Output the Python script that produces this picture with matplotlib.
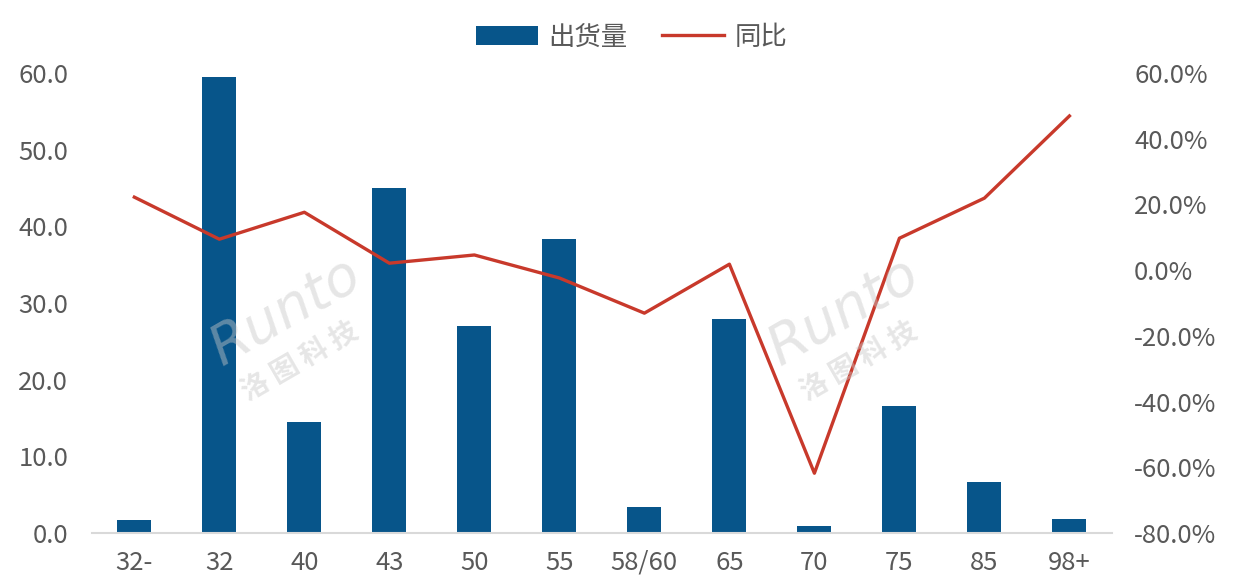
import matplotlib
matplotlib.use("Agg")
import matplotlib.pyplot as plt
from matplotlib.ticker import FuncFormatter

plt.rcParams['font.family'] = ['Noto Sans CJK SC', 'DejaVu Sans']

categories = ['32-', '32', '40', '43', '50', '55', '58/60', '65', '70', '75', '85', '98+']
shipments = [1.7, 59.5, 14.5, 45.0, 27.0, 38.3, 3.4, 27.9, 0.9, 16.6, 6.6, 1.8]
yoy = [22.2, 9.4, 17.6, 2.1, 4.6, -2.4, -13.1, 1.8, -61.8, 9.7, 21.9, 46.9]

bar_color = '#07558A'
line_color = '#C8392B'
text_color = '#595959'

fig = plt.figure(figsize=(12.41, 5.88), dpi=100)
ax = fig.add_axes([0.074, 0.0935, 0.822, 0.7825])
x = list(range(len(categories)))
ax.bar(x, shipments, width=0.4, color=bar_color, zorder=2, label='出货量')
ax.set_xlim(-0.5, len(categories) - 0.5)
ax.set_ylim(0, 60)
ax.set_yticks([0, 10, 20, 30, 40, 50, 60])
ax.yaxis.set_major_formatter(FuncFormatter(lambda v, p: f'{v:.1f}'))
ax.set_xticks(x)
ax.set_xticklabels(categories)
for s in ['top', 'right', 'left']:
    ax.spines[s].set_visible(False)
ax.spines['bottom'].set_color('#d9d9d9')
ax.spines['bottom'].set_linewidth(1.5)
ax.tick_params(axis='both', length=0, labelsize=18.5, colors=text_color)
ax.tick_params(axis='x', pad=12)
ax.tick_params(axis='y', pad=17)

ax2 = ax.twinx()
ax2.plot(x, yoy, color=line_color, linewidth=2.4, zorder=3, label='同比')
ax2.set_ylim(-80, 60)
ax2.set_yticks([-80, -60, -40, -20, 0, 20, 40, 60])
ax2.yaxis.set_major_formatter(FuncFormatter(lambda v, p: f'{v:.1f}%'))
for s in ['top', 'right', 'left', 'bottom']:
    ax2.spines[s].set_visible(False)
ax2.tick_params(axis='y', length=0, labelsize=18.5, colors=text_color, pad=16)

# watermark
for (wx, wy) in [(0.23, 0.47), (0.68, 0.47)]:
    fig.text(wx, wy, 'Runto', fontsize=40, style='italic', color='#c8c8c8', alpha=0.45,
             rotation=30, ha='center', va='center', family='DejaVu Sans')
    fig.text(wx + 0.012, wy - 0.085, '洛 图 科 技', fontsize=20, fontweight='bold', color='#c8c8c8',
             alpha=0.45, rotation=30, ha='center', va='center')

h1, l1 = ax.get_legend_handles_labels()
h2, l2 = ax2.get_legend_handles_labels()
fig.legend(h1 + h2, l1 + l2, loc='center', bbox_to_anchor=(0.509, 0.937), ncol=2, frameon=False,
           fontsize=19, labelcolor=text_color, handlelength=2.35, columnspacing=1.3, handletextpad=0.4)

fig.savefig('out.png', dpi=100)
